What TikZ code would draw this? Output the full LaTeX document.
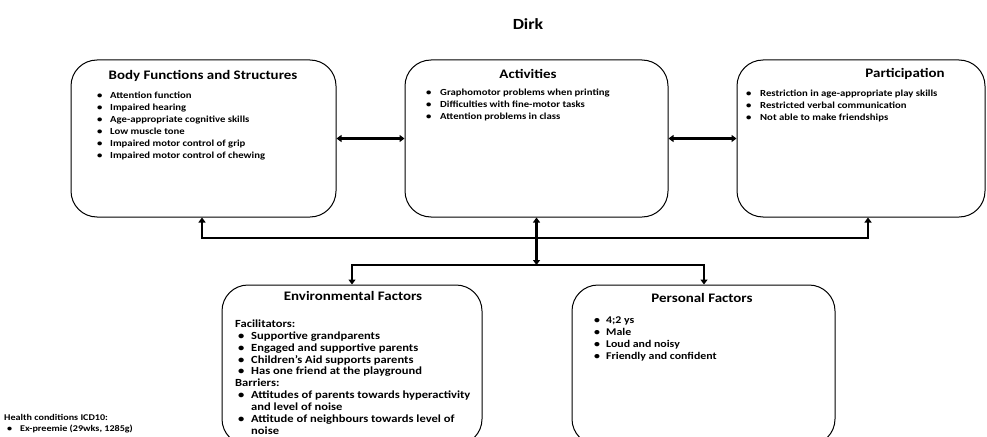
\documentclass[tikz,border=0pt]{standalone}
\usepackage{fontspec}
\setmainfont{Carlito}[FakeStretch=1.15]
\usetikzlibrary{arrows.meta}
\newcommand\bul[1][13pt]{\makebox[#1][l]{\textbullet}}
\begin{document}
\begin{tikzpicture}[x=1pt,y=-1pt,
  box/.style={draw, line width=1pt, rounded corners=26pt, inner sep=0pt},
  ttl/.style={font=\bfseries\fontsize{13}{15}\selectfont, inner sep=0pt},
  lst/.style={font=\bfseries\fontsize{9.3}{11.9}\selectfont, anchor=north west, align=left, inner sep=0pt},
  lstb/.style={font=\bfseries\fontsize{10.9}{11.9}\selectfont, anchor=north west, align=left, inner sep=0pt},
  lstp/.style={font=\bfseries\fontsize{10.3}{11.7}\selectfont, anchor=north west, align=left, inner sep=0pt},
  lsth/.style={font=\bfseries\fontsize{8.8}{11}\selectfont, anchor=north west, align=left, inner sep=0pt},
  conn/.style={line width=2.3pt, {Triangle[length=5pt,width=7pt]}-{Triangle[length=5pt,width=7pt]}}
]
\useasboundingbox (0,0) rectangle (987,436);
\fill[white] (0,0) rectangle (987,436);

\node[font=\bfseries\fontsize{15.5}{17}\selectfont, inner sep=0pt] (title) at (528,24) {Dirk};

% boxes
\node[box, minimum width=265pt, minimum height=157pt] (body) at (203.5,138.5) {};
\node[box, minimum width=263pt, minimum height=157pt] (act) at (536.5,138.5) {};
\node[box, minimum width=248pt, minimum height=157pt] (part) at (861,138.5) {};
\node[box, minimum width=260pt, minimum height=160pt] (env) at (352,365) {};
\node[box, minimum width=263pt, minimum height=160pt] (pers) at (703.5,365) {};

% titles
\node[ttl] (bodyT) at (203,76) {Body Functions and Structures};
\node[ttl] (actT) at (528,74) {Activities};
\node[ttl] (partT) at (905,74) {Participation};
\node[ttl] (envT) at (353,296) {Environmental Factors};
\node[ttl] (persT) at (702,298) {Personal Factors};

% lists
\node[lst] (bodyL) at (97,92) {\bul Attention function\\
\bul Impaired hearing\\
\bul Age-appropriate cognitive skills\\
\bul Low muscle tone\\
\bul Impaired motor control of grip\\
\bul Impaired motor control of chewing};

\node[lst] (actL) at (426,89) {\bul[14pt]Graphomotor problems when printing\\
\bul[14pt]Difficulties with fine-motor tasks\\
\bul[14pt]Attention problems in class};

\node[lst] (partL) at (746,90) {\bul[14pt]Restriction in age-appropriate play skills\\
\bul[14pt]Restricted verbal communication\\
\bul[14pt]Not able to make friendships};

\node[lstb] (envL) at (235,319.5) {Facilitators:\\
\hspace*{3pt}\bul Supportive grandparents\\
\hspace*{3pt}\bul Engaged and supportive parents\\
\hspace*{3pt}\bul Children’s Aid supports parents\\
\hspace*{3pt}\bul Has one friend at the playground\\
Barriers:\\
\hspace*{3pt}\bul Attitudes of parents towards hyperactivity\\
\hspace*{16pt}and level of noise\\
\hspace*{3pt}\bul Attitude of neighbours towards level of\\
\hspace*{16pt}noise};

\node[lstp] (persL) at (594,317) {\bul[12pt]4;2 ys\\
\bul[12pt]Male\\
\bul[12pt]Loud and noisy\\
\bul[12pt]Friendly and confident};

\node[lsth] (health) at (4,414.5) {Health conditions ICD10:\\
\hspace*{3pt}\bul[13pt]Ex-preemie (29wks, 1285g)};

% connectors
\coordinate (jl) at (202,238);
\coordinate (jr) at (868,238);
\coordinate (jm) at (536.5,265);
\coordinate (el) at (352,265);
\coordinate (pr) at (704,265);

\draw[conn] (body) -- (act);
\draw[conn] (act) -- (part);
\draw[conn] (jl |- body.south) -- (jl) -- (jr) -- (jr |- part.south);
\draw[conn] (act.south) -- (jm);
\draw[conn] (el |- env.north) -- (el) -- (pr) -- (pr |- pers.north);
\end{tikzpicture}
\end{document}
